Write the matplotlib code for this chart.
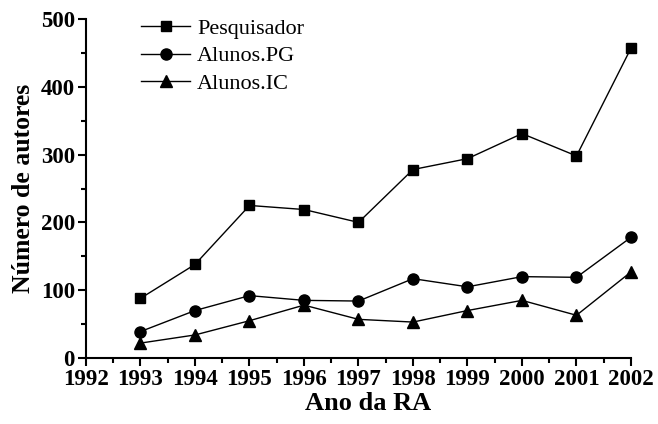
import numpy as np
import matplotlib.pyplot as plt
from matplotlib.ticker import MultipleLocator

# --- Data ---
anos = [1993, 1994, 1995, 1996, 1997, 1998, 1999, 2000, 2001, 2002]
pesquisador = [88, 138, 225, 219, 200, 278, 294, 331, 298, 457]
alunos_pg = [39, 70, 92, 85, 84, 117, 105, 120, 119, 178]
alunos_ic = [22, 34, 55, 78, 57, 53, 70, 85, 63, 127]

plt.rcParams['font.family'] = ['Liberation Serif', 'DejaVu Serif']

fig = plt.figure(figsize=(6.58, 4.24), dpi=100)
ax = fig.add_axes([86/658, 1 - 358/424, (631 - 86)/658, (358 - 19)/424])

ax.plot(anos, pesquisador, '-s', color='black', lw=1, ms=7.5, label='Pesquisador', clip_on=False)
ax.plot(anos, alunos_pg, '-o', color='black', lw=1, ms=8, label='Alunos.PG', clip_on=False)
ax.plot(anos, alunos_ic, '-^', color='black', lw=1, ms=8.5, label='Alunos.IC', clip_on=False)

ax.set_xlim(1992, 2002)
ax.set_ylim(0, 500)
ax.xaxis.set_major_locator(MultipleLocator(1))
ax.xaxis.set_minor_locator(MultipleLocator(0.5))
ax.yaxis.set_major_locator(MultipleLocator(100))
ax.yaxis.set_minor_locator(MultipleLocator(50))

for s in ['top', 'right']:
    ax.spines[s].set_visible(False)
for s in ['left', 'bottom']:
    ax.spines[s].set_linewidth(1.5)

ax.tick_params(which='major', direction='out', length=6, width=1.5, labelsize=16.5, pad=2)
ax.tick_params(which='minor', direction='out', length=3.5, width=1.5)
for lab in ax.get_xticklabels() + ax.get_yticklabels():
    lab.set_fontweight('bold')

ax.set_xlabel('Ano da RA', fontsize=19, fontweight='bold')
ax.xaxis.set_label_coords((368 - 86) / (631 - 86), -0.10)
ax.set_ylabel('Número de autores', fontsize=18.5, fontweight='bold', labelpad=4)

ax.legend(loc='upper left', bbox_to_anchor=(0.065, 1.06), frameon=False, fontsize=16,
          handlelength=2.2, handletextpad=0.3, labelspacing=0.3)

fig.savefig('out.png', dpi=100)
